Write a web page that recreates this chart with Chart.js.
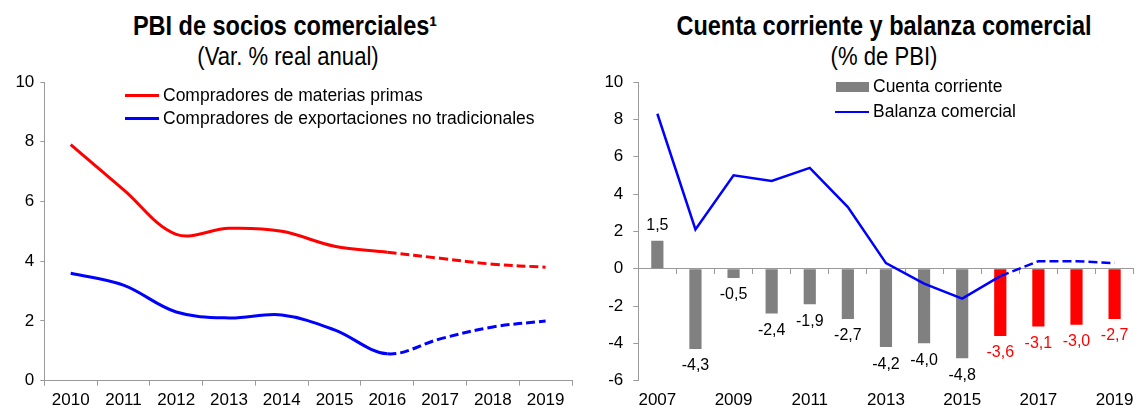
<!DOCTYPE html>
<html lang="es">
<head>
<meta charset="utf-8">
<title>PBI de socios comerciales / Cuenta corriente y balanza comercial</title>
<script src="https://cdn.jsdelivr.net/npm/chart.js@4.4.1/dist/chart.umd.min.js"></script>
<style>
  html, body { margin: 0; padding: 0; background: #fff; }
  body { width: 1145px; height: 409px; overflow: hidden; position: relative; font-family: "Liberation Sans", Arial, sans-serif; color: #000; }
  canvas { position: absolute; top: 0; }
  .titulo, .subtitulo { position: absolute; text-align: center; white-space: nowrap; transform-origin: center; }
  .titulo { font-size: 27px; line-height: 27px; font-weight: bold; transform: scaleX(0.87); }
  .subtitulo { font-size: 26px; line-height: 26px; transform: scaleX(0.85); }
  .ley-texto { position: absolute; font-size: 17.5px; line-height: 17.5px; white-space: nowrap; }
  .ley-marca { position: absolute; }
</style>
</head>
<body>

<!-- Panel izquierdo -->
<div class="titulo" style="left:0; width:570px; top:13px;">PBI de socios comerciales¹</div>
<div class="subtitulo" style="left:0; width:576px; top:43px;">(Var. % real anual)</div>
<canvas id="graficoSocios" width="580" height="409" style="left:0;"></canvas>
<div class="ley-marca" style="left:125px; top:93.5px; width:34px; height:3px; background:#ff0000;"></div>
<div class="ley-texto" style="left:163px; top:86.5px;">Compradores de materias primas</div>
<div class="ley-marca" style="left:125px; top:117px; width:34px; height:3px; background:#0000ff;"></div>
<div class="ley-texto" style="left:163px; top:110px;">Compradores de exportaciones no tradicionales</div>

<!-- Panel derecho -->
<div class="titulo" style="left:624px; width:520px; top:13px;">Cuenta corriente y balanza comercial</div>
<div class="subtitulo" style="left:624px; width:520px; top:43px;">(% de PBI)</div>
<canvas id="graficoCuenta" width="545" height="409" style="left:600px;"></canvas>
<div class="ley-marca" style="left:836px; top:82px; width:33px; height:9.5px; background:#808080;"></div>
<div class="ley-texto" style="left:873px; top:78px;">Cuenta corriente</div>
<div class="ley-marca" style="left:835px; top:110.5px; width:34px; height:2.5px; background:#0000ff;"></div>
<div class="ley-texto" style="left:873px; top:103px;">Balanza comercial</div>

<script>
// PBI de socios comerciales (var. % real anual)
const anios = ['2010', '2011', '2012', '2013', '2014', '2015', '2016', '2017', '2018', '2019'];
const materiasPrimas = [7.9, 6.4, 4.9, 5.1, 5.0, 4.5, 4.3, 4.1, 3.9, 3.8];
const noTradicionales = [3.6, 3.2, 2.3, 2.1, 2.2, 1.7, 0.9, 1.4, 1.8, 2.0];
const inicioProySocios = 6; // desde 2016 la línea va punteada

// Cuenta corriente y balanza comercial (% del PBI)
const aniosCuenta = ['2007', '2008', '2009', '2010', '2011', '2012', '2013', '2014', '2015', '2016', '2017', '2018', '2019'];
const cuentaCorriente = [1.5, -4.3, -0.5, -2.4, -1.9, -2.7, -4.2, -4.0, -4.8, -3.6, -3.1, -3.0, -2.7];
const balanzaComercial = [8.3, 2.1, 5.0, 4.7, 5.4, 3.3, 0.3, -0.8, -1.6, -0.4, 0.4, 0.4, 0.3];
const inicioProyCuenta = 9; // proyección desde 2016

const GRIS_EJE = '#9a9a9a';
const FUENTE = '"Liberation Sans", Arial, sans-serif';

document.addEventListener('DOMContentLoaded', () => {
  crearGraficoSocios();
  crearGraficoCuenta();
});

function fmtValor(v) {
  return v.toFixed(1).replace('.', ',');
}

// fija el tamaño de un eje para que el área del gráfico quede donde la queremos
function fijarAlto(alto) {
  return scale => { scale.height = alto; };
}
function fijarAncho(ancho) {
  return scale => { scale.width = ancho; };
}

function crearGraficoSocios() {
  const ctx = document.getElementById('graficoSocios').getContext('2d');
  const punteado = c => c.p0DataIndex >= inicioProySocios ? [9, 4] : undefined;

  new Chart(ctx, {
    type: 'line',
    data: {
      labels: anios,
      datasets: [
        {
          label: 'Compradores de materias primas',
          data: materiasPrimas,
          borderColor: '#ff0000',
          borderWidth: 3,
          pointRadius: 0,
          tension: 0.35,
          segment: { borderDash: punteado }
        },
        {
          label: 'Compradores de exportaciones no tradicionales',
          data: noTradicionales,
          borderColor: '#0000ff',
          borderWidth: 3,
          pointRadius: 0,
          tension: 0.35,
          segment: { borderDash: punteado }
        }
      ]
    },
    options: {
      responsive: false,
      animation: false,
      layout: { padding: { left: 0, right: 8, top: 82, bottom: 0 } },
      plugins: { legend: { display: false }, tooltip: { enabled: false } },
      scales: {
        x: {
          type: 'category',
          offset: true,
          afterFit: fijarAlto(28.3),
          grid: { offset: true, drawOnChartArea: false, tickLength: 5, color: GRIS_EJE },
          border: { color: GRIS_EJE },
          ticks: { color: '#000', padding: 6.5, maxRotation: 0, autoSkip: false, font: { family: FUENTE, size: 17, lineHeight: 1 } }
        },
        y: {
          min: 0,
          max: 10,
          afterFit: fijarAncho(44.3),
          grid: { drawOnChartArea: false, tickLength: 4, color: GRIS_EJE },
          border: { color: GRIS_EJE },
          ticks: { stepSize: 2, color: '#000', padding: 6, font: { family: FUENTE, size: 17, lineHeight: 1 } }
        }
      }
    }
  });
}

// Etiquetas de valor sobre/bajo cada barra de la cuenta corriente
const etiquetasBarras = {
  id: 'etiquetasBarras',
  afterDatasetsDraw(chart) {
    const meta = chart.getDatasetMeta(1);
    const c = chart.ctx;
    c.save();
    c.font = '16px ' + FUENTE;
    c.textAlign = 'center';
    c.textBaseline = 'middle';
    meta.data.forEach((barra, i) => {
      const v = cuentaCorriente[i];
      c.fillStyle = i >= inicioProyCuenta ? '#ff0000' : '#000';
      c.fillText(fmtValor(v), barra.x, v >= 0 ? barra.y - 15 : barra.y + 17);
    });
    c.restore();
  }
};

function crearGraficoCuenta() {
  const ctx = document.getElementById('graficoCuenta').getContext('2d');
  const coloresBarras = aniosCuenta.map((a, i) => i >= inicioProyCuenta ? '#ff0000' : '#808080');

  new Chart(ctx, {
    type: 'bar',
    data: {
      labels: aniosCuenta,
      datasets: [
        {
          type: 'line',
          label: 'Balanza comercial',
          data: balanzaComercial,
          borderColor: '#0000ff',
          borderWidth: 2.5,
          pointRadius: 0,
          tension: 0,
          order: 0,
          segment: { borderDash: c => c.p0DataIndex >= inicioProyCuenta ? [9, 4] : undefined }
        },
        {
          type: 'bar',
          label: 'Cuenta corriente',
          data: cuentaCorriente,
          backgroundColor: coloresBarras,
          categoryPercentage: 1,
          barPercentage: 0.32,
          order: 1
        }
      ]
    },
    options: {
      responsive: false,
      animation: false,
      layout: { padding: { left: 0, right: 0, top: 82, bottom: 0 } },
      plugins: { legend: { display: false }, tooltip: { enabled: false } },
      scales: {
        x: {
          type: 'category',
          offset: true,
          afterFit: fijarAlto(28.3),
          grid: { display: false, drawTicks: false, tickLength: 0 },
          border: { display: false },
          ticks: {
            color: '#000',
            padding: 11.5,
            maxRotation: 0,
            autoSkip: false,
            font: { family: FUENTE, size: 17, lineHeight: 1 },
            callback: function(v, i) { return i % 2 === 0 ? this.getLabelForValue(v) : ''; }
          }
        },
        // eje horizontal en el cero, solo línea y marcas
        x0: {
          type: 'category',
          axis: 'x',
          position: { y: 0 },
          offset: true,
          afterFit: fijarAlto(0),
          grid: { offset: true, drawOnChartArea: false, tickLength: 5, color: GRIS_EJE },
          border: { color: GRIS_EJE },
          ticks: { display: false }
        },
        y: {
          min: -6,
          max: 10,
          afterFit: fijarAncho(38.3),
          grid: { drawOnChartArea: false, tickLength: 5, color: GRIS_EJE },
          border: { color: GRIS_EJE },
          ticks: { stepSize: 2, color: '#000', padding: 10, font: { family: FUENTE, size: 17, lineHeight: 1 } }
        }
      }
    },
    plugins: [etiquetasBarras]
  });
}
</script>
</body>
</html>
